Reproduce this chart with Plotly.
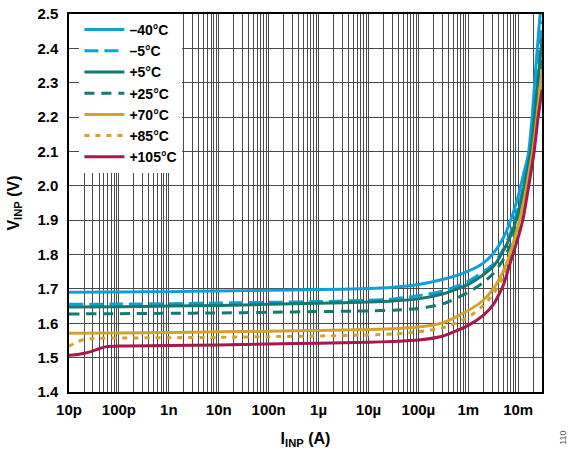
import plotly.graph_objects as go
import numpy as np

# log10(current in A) sample points and voltages (V) per temperature
x_m40 = [-11, -10, -9, -8, -7, -6, -5, -4.5, -4, -3.5, -3, -2.7, -2.5, -2.3, -2.15, -2.0, -1.9, -1.8, -1.72, -1.65, -1.6, -1.56, -1.53]
v_m40 = [1.690, 1.691, 1.692, 1.694, 1.696, 1.698, 1.701, 1.705, 1.713, 1.728, 1.752, 1.775, 1.803, 1.848, 1.90, 1.97, 2.03, 2.09, 2.20, 2.34, 2.43, 2.50, 2.56]

x_m5 = [-11, -10, -9, -8, -7, -6, -5, -4.5, -4, -3.5, -3, -2.85, -2.7, -2.5, -2.3, -2.15, -2.0, -1.9, -1.8, -1.72, -1.65, -1.6, -1.52]
v_m5 = [1.655, 1.656, 1.657, 1.659, 1.661, 1.663, 1.667, 1.671, 1.680, 1.694, 1.722, 1.735, 1.750, 1.772, 1.815, 1.865, 1.935, 1.995, 2.07, 2.17, 2.28, 2.37, 2.48]

x_p5 = [-11, -10, -9, -8, -7, -6, -5, -4.5, -4, -3.5, -3, -2.7, -2.5, -2.3, -2.15, -2.0, -1.9, -1.8, -1.75, -1.7, -1.65, -1.6, -1.52]
v_p5 = [1.647, 1.648, 1.650, 1.652, 1.655, 1.658, 1.662, 1.665, 1.671, 1.686, 1.713, 1.741, 1.765, 1.810, 1.855, 1.920, 1.985, 2.06, 2.10, 2.16, 2.24, 2.31, 2.43]

x_p25 = [-11, -10, -9, -8, -7, -6, -5, -4.5, -4, -3.5, -3, -2.7, -2.5, -2.3, -2.15, -2.0, -1.9, -1.8, -1.7, -1.6, -1.52]
v_p25 = [1.627, 1.628, 1.629, 1.630, 1.632, 1.634, 1.636, 1.638, 1.643, 1.657, 1.690, 1.718, 1.745, 1.785, 1.830, 1.895, 1.955, 2.035, 2.13, 2.27, 2.39]

x_p70 = [-11, -10, -9, -8, -7, -6, -5, -4.5, -4, -3.5, -3, -2.7, -2.5, -2.3, -2.2, -2.0, -1.9, -1.83, -1.71, -1.6, -1.52]
v_p70 = [1.571, 1.572, 1.573, 1.575, 1.577, 1.579, 1.582, 1.584, 1.589, 1.602, 1.637, 1.667, 1.700, 1.752, 1.787, 1.885, 1.945, 2.00, 2.10, 2.23, 2.34]

x_p85 = [-11, -10.85, -10.7, -10.5, -10, -9, -8, -7, -6, -5, -4.5, -4, -3.5, -3, -2.7, -2.5, -2.3, -2.2, -2.0, -1.9, -1.8, -1.7, -1.6, -1.52]
v_p85 = [1.533, 1.545, 1.553, 1.556, 1.557, 1.558, 1.559, 1.561, 1.563, 1.566, 1.569, 1.575, 1.587, 1.618, 1.652, 1.685, 1.735, 1.770, 1.865, 1.925, 2.00, 2.10, 2.21, 2.31]

x_p105 = [-11, -10.8, -10.6, -10.4, -10.25, -10, -9, -8, -7, -6, -5, -4.5, -4, -3.5, -3, -2.7, -2.5, -2.3, -2.15, -2.0, -1.9, -1.8, -1.68, -1.6, -1.52]
v_p105 = [1.507, 1.510, 1.516, 1.526, 1.532, 1.534, 1.535, 1.537, 1.540, 1.542, 1.545, 1.547, 1.551, 1.563, 1.594, 1.623, 1.654, 1.710, 1.780, 1.850, 1.905, 1.99, 2.10, 2.20, 2.28]

names = ["\u201340\u00b0C", "\u20135\u00b0C", "+5\u00b0C", "+25\u00b0C", "+70\u00b0C", "+85\u00b0C", "+105\u00b0C"]
xs = [x_m40, x_m5, x_p5, x_p25, x_p70, x_p85, x_p105]
vs = [v_m40, v_m5, v_p5, v_p25, v_p70, v_p85, v_p105]

BLUE = "#0FA0D8"
TEAL = "#127A6E"
GOLD = "#D3A22E"
RED = "#AA174A"
colors = [BLUE, BLUE, TEAL, TEAL, GOLD, GOLD, RED]
dashes = ["solid", "14px,6px", "solid", "10px,7px", "solid", "5px,6px", "solid"]

tick_vals = [1e-11, 1e-10, 1e-9, 1e-8, 1e-7, 1e-6, 1e-5, 1e-4, 1e-3, 1e-2]
tick_text = ["10p", "100p", "1n", "10n", "100n", "1\u00b5", "10\u00b5", "100\u00b5", "1m", "10m"]
y_ticks = [1.4, 1.5, 1.6, 1.7, 1.8, 1.9, 2.0, 2.1, 2.2, 2.3, 2.4, 2.5]

# all 1..9 x 10^k positions for the vertical grid
grid_vals = []
grid_text = []
for d in range(-11, -1):
    for m in range(1, 10):
        grid_vals.append(m * 10.0 ** d)
        grid_text.append(tick_text[d + 11] if m == 1 else "")
grid_vals.append(0.03)
grid_text.append("")

fig = go.Figure()
for n, x, v, c, d in zip(names, xs, vs, colors, dashes):
    fig.add_trace(go.Scatter(
        x=[10.0 ** e for e in x], y=v, mode="lines", name=n,
        line=dict(color=c, width=3, dash=d, shape="spline", smoothing=0.6),
    ))

FONT = "Liberation Sans, Arial, sans-serif"
GRID = "#4a4a4a"
fig.update_layout(
    width=571, height=450,
    margin=dict(l=69, r=29, t=14, b=58, autoexpand=False),
    paper_bgcolor="white", plot_bgcolor="white",
    font=dict(family=FONT, size=14, color="black"),
    showlegend=True,
    legend=dict(
        x=0.022, y=1.0, xanchor="left", yanchor="top",
        bgcolor="white", borderwidth=0,
        font=dict(family=FONT, size=14, color="black", weight="bold"),
        tracegroupgap=0, itemwidth=40,
    ),
    xaxis=dict(
        type="log", range=[-11, np.log10(0.03)], automargin=False,
        tickmode="array", tickvals=grid_vals, ticktext=grid_text,
        showgrid=True, gridcolor=GRID, gridwidth=1,
        ticks="", showline=True, linecolor="black", linewidth=1.5, mirror=True,
        ticklabelstandoff=3,
        tickfont=dict(family=FONT, size=15, color="black", weight="bold"),
        title=dict(text="I<sub>INP</sub> (A)", font=dict(family=FONT, size=16, color="black", weight="bold"), standoff=16),
        zeroline=False,
    ),
    yaxis=dict(
        range=[1.4, 2.5], tickvals=y_ticks, tickformat=".1f", automargin=False,
        showgrid=True, gridcolor=GRID, gridwidth=1,
        ticks="", showline=True, linecolor="black", linewidth=1.5, mirror=True,
        ticklabelstandoff=6,
        tickfont=dict(family=FONT, size=15, color="black", weight="bold"),
        title=dict(text="V<sub>INP</sub> (V)", font=dict(family=FONT, size=16, color="black", weight="bold"), standoff=14),
        zeroline=False,
    ),
    annotations=[dict(
        text="110", xref="paper", yref="paper", x=1.0, y=-0.145,
        xshift=28, showarrow=False, textangle=-90,
        font=dict(family=FONT, size=9, color="#555555"),
    )],
)

fig.write_html("out.html")
